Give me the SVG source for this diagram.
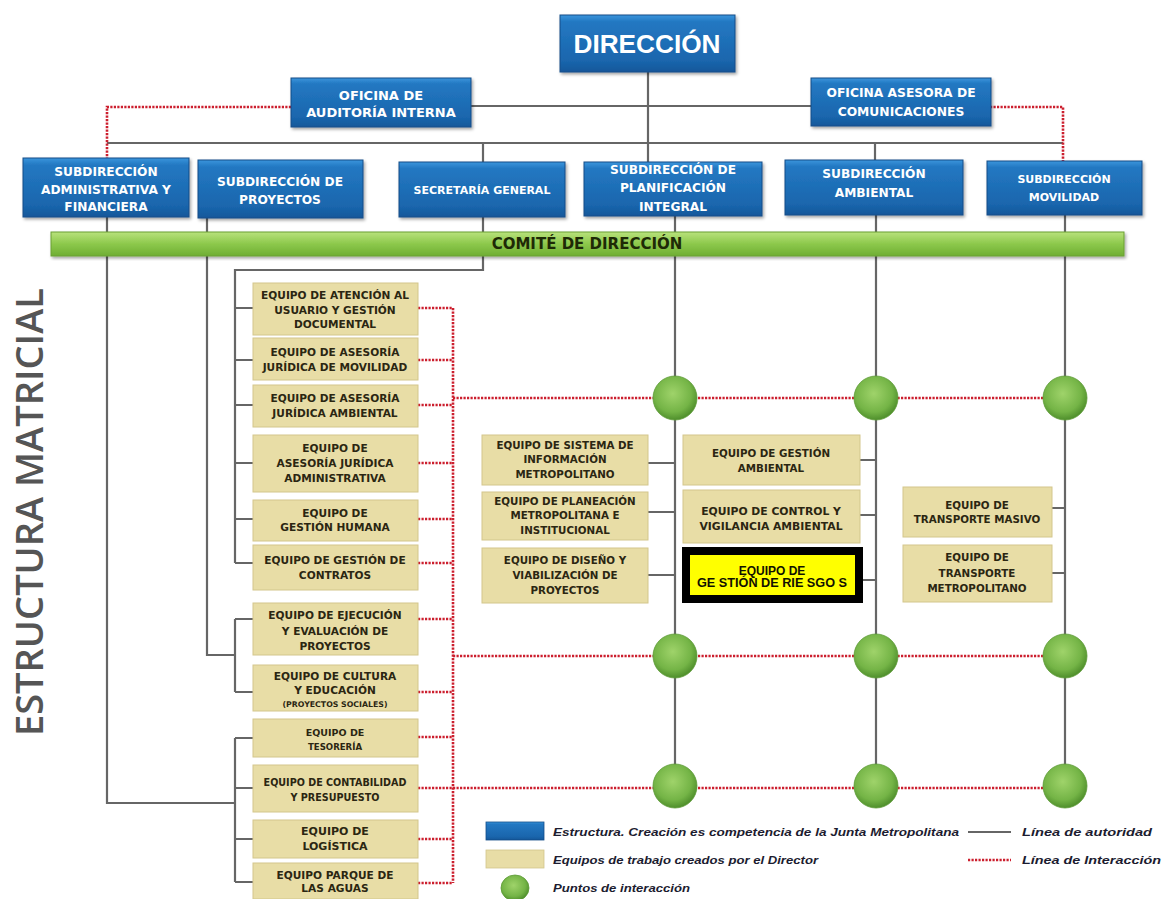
<svg xmlns="http://www.w3.org/2000/svg" width="1174" height="899" viewBox="0 0 1174 899">
<defs>
<linearGradient id="gBlue" x1="0" y1="0" x2="0" y2="1">
<stop offset="0" stop-color="#3a95dc"/>
<stop offset="0.12" stop-color="#2378c2"/>
<stop offset="0.8" stop-color="#1a66ad"/>
<stop offset="1" stop-color="#14579a"/>
</linearGradient>
<linearGradient id="gGreen" x1="0" y1="0" x2="0" y2="1">
<stop offset="0" stop-color="#b9e27c"/>
<stop offset="0.5" stop-color="#8cc84b"/>
<stop offset="1" stop-color="#6fae33"/>
</linearGradient>
<radialGradient id="gDot" cx="0.45" cy="0.4" r="0.6">
<stop offset="0" stop-color="#9fd36a"/>
<stop offset="0.7" stop-color="#74b446"/>
<stop offset="1" stop-color="#4f8f2c"/>
</radialGradient>
<filter id="sh" x="-10%" y="-10%" width="125%" height="130%">
<feDropShadow dx="1.5" dy="2" stdDeviation="1.5" flood-color="#000" flood-opacity="0.35"/>
</filter>
</defs>
<style>
.blue{fill:url(#gBlue);stroke:#124d88;stroke-width:1;filter:url(#sh)}
.tan{fill:#e8dda6;stroke:#d3c68c;stroke-width:1}
.bt{font-family:"DejaVu Sans","Liberation Sans",sans-serif;font-weight:bold;fill:#ffffff;text-anchor:middle;dominant-baseline:central;font-size:12.2px}
.tt{font-family:"DejaVu Sans","Liberation Sans",sans-serif;font-weight:bold;fill:#2b2612;text-anchor:middle;dominant-baseline:central;font-size:10.6px}
.mt{font-size:10.3px}
.auth{fill:none;stroke:#666666;stroke-width:2.2}
.inter{fill:none;stroke:#cc1f2e;stroke-width:2.6;stroke-dasharray:2.2 1.3}
.dot{fill:url(#gDot);stroke:#5d9a36;stroke-width:0.8}
.lg{font-family:"Liberation Sans",Arial,sans-serif;font-weight:bold;font-style:italic;fill:#1c1c30;font-size:10.5px;dominant-baseline:central}
</style>
<rect width="1174" height="899" fill="#ffffff"/>

<g id="connectors">
<path class="auth" d="M648 72 V162"/>
<path class="auth" d="M471 106 H811"/>
<path class="auth" d="M107 143 H1063"/>
<path class="auth" d="M483 143 V162"/>
<path class="auth" d="M875 143 V160"/>
<path class="inter" d="M291 107 H107 V158"/>
<path class="inter" d="M990 107 H1063 V161"/>
<path class="auth" d="M107 217 V803 H235"/>
<path class="auth" d="M235 738 V882"/>
<path class="auth" d="M235 738 H253 M235 788 H253 M235 839 H253 M235 882 H253"/>
<path class="auth" d="M207 218 V655 H235"/>
<path class="auth" d="M235 619 V692"/>
<path class="auth" d="M235 619 H253 M235 692 H253"/>
<path class="auth" d="M483 217 V270 H235 V563"/>
<path class="auth" d="M235 308 H253 M235 360 H253 M235 405 H253 M235 463 H253 M235 519 H253 M235 563 H253"/>
<path class="auth" d="M675 216 V786"/>
<path class="auth" d="M876 215 V786"/>
<path class="auth" d="M1065 215 V786"/>
<path class="auth" d="M648 463 H675 M648 512 H675 M648 575 H675"/>
<path class="auth" d="M860 460 H876 M860 515 H876 M863 580 H876"/>
<path class="auth" d="M1052 508 H1065 M1052 573 H1065"/>
<path class="inter" d="M453 308 V883"/>
<path class="inter" d="M418 308 H453 M418 360 H453 M418 405 H453 M418 463 H453 M418 519 H453 M418 563 H453 M418 619 H453 M418 692 H453 M418 737 H453 M418 788 H453 M418 839 H453 M418 883 H453"/>
<path class="inter" d="M453 398 H1065"/>
<path class="inter" d="M453 656 H1065"/>
<path class="inter" d="M453 788 H1065"/>
</g>

<g id="direccion">
<rect class="blue" x="560" y="15" width="175" height="57"/>
<text x="647" y="44" font-family="'Liberation Sans',Arial,sans-serif" font-weight="bold" fill="#ffffff" text-anchor="middle" dominant-baseline="central" font-size="25" textLength="147" lengthAdjust="spacingAndGlyphs">DIRECCIÓN</text>
</g>
<g id="auditoria">
<rect class="blue" x="291" y="78" width="180" height="49"/>
<text class="bt" x="381" y="95" style="font-size:13px">OFICINA DE</text>
<text class="bt" x="381" y="112" style="font-size:13px">AUDITORÍA INTERNA</text>
</g>
<g id="comunicaciones">
<rect class="blue" x="811" y="78" width="180" height="48"/>
<text class="bt" x="901" y="93" style="font-size:12.3px">OFICINA  ASESORA DE</text>
<text class="bt" x="901" y="112" style="font-size:12.3px">COMUNICACIONES</text>
</g>

<g id="sub-admin">
<rect class="blue" x="23" y="158" width="166" height="59"/>
<text class="bt" x="106" y="172">SUBDIRECCIÓN</text>
<text class="bt" x="106" y="190">ADMINISTRATIVA Y</text>
<text class="bt" x="106" y="207">FINANCIERA</text>
</g>
<g id="sub-proyectos">
<rect class="blue" x="198" y="160" width="165" height="58"/>
<text class="bt" x="280" y="182">SUBDIRECCIÓN DE</text>
<text class="bt" x="280" y="200">PROYECTOS</text>
</g>
<g id="secretaria">
<rect class="blue" x="399" y="162" width="166" height="55"/>
<text class="bt" x="482" y="190" style="font-size:11px">SECRETARÍA GENERAL</text>
</g>
<g id="sub-planificacion">
<rect class="blue" x="584" y="162" width="178" height="54"/>
<text class="bt" x="673" y="170">SUBDIRECCIÓN DE</text>
<text class="bt" x="673" y="188">PLANIFICACIÓN</text>
<text class="bt" x="673" y="207">INTEGRAL</text>
</g>
<g id="sub-ambiental">
<rect class="blue" x="785" y="160" width="178" height="55"/>
<text class="bt" x="874" y="174">SUBDIRECCIÓN</text>
<text class="bt" x="874" y="193">AMBIENTAL</text>
</g>
<g id="sub-movilidad">
<rect class="blue" x="987" y="161" width="155" height="54"/>
<text class="bt" x="1064" y="179" style="font-size:11px">SUBDIRECCIÓN</text>
<text class="bt" x="1064" y="197" style="font-size:11px">MOVILIDAD</text>
</g>

<g id="comite">
<rect x="51" y="232" width="1073" height="24" fill="url(#gGreen)" stroke="#6a9f35" stroke-width="1" filter="url(#sh)"/>
<text x="587" y="244" font-family="'DejaVu Sans','Liberation Sans',sans-serif" font-weight="bold" font-size="15" fill="#1e2a06" text-anchor="middle" dominant-baseline="central">COMITÉ DE DIRECCIÓN</text>
</g>

<g id="eq-atencion">
<rect class="tan" x="253" y="283" width="165" height="52"/>
<text class="tt" x="335" y="295">EQUIPO DE ATENCIÓN AL</text>
<text class="tt" x="335" y="310">USUARIO Y GESTIÓN</text>
<text class="tt" x="335" y="324">DOCUMENTAL</text>
</g>
<g id="eq-jur-movilidad">
<rect class="tan" x="253" y="338" width="165" height="42"/>
<text class="tt" x="335" y="352">EQUIPO DE ASESORÍA</text>
<text class="tt" x="335" y="367">JURÍDICA DE MOVILIDAD</text>
</g>
<g id="eq-jur-ambiental">
<rect class="tan" x="253" y="385" width="165" height="42"/>
<text class="tt" x="335" y="398">EQUIPO DE ASESORÍA</text>
<text class="tt" x="335" y="413">JURÍDICA AMBIENTAL</text>
</g>
<g id="eq-jur-admin">
<rect class="tan" x="253" y="435" width="165" height="57"/>
<text class="tt" x="335" y="448">EQUIPO DE</text>
<text class="tt" x="335" y="463">ASESORÍA JURÍDICA</text>
<text class="tt" x="335" y="478">ADMINISTRATIVA</text>
</g>
<g id="eq-humana">
<rect class="tan" x="253" y="500" width="165" height="41"/>
<text class="tt" x="335" y="513">EQUIPO DE</text>
<text class="tt" x="335" y="527">GESTIÓN HUMANA</text>
</g>
<g id="eq-contratos">
<rect class="tan" x="253" y="545" width="165" height="45"/>
<text class="tt" x="335" y="560">EQUIPO DE GESTIÓN DE</text>
<text class="tt" x="335" y="575">CONTRATOS</text>
</g>
<g id="eq-ejecucion">
<rect class="tan" x="253" y="603" width="165" height="52"/>
<text class="tt" x="335" y="615">EQUIPO DE  EJECUCIÓN</text>
<text class="tt" x="335" y="631">Y EVALUACIÓN DE</text>
<text class="tt" x="335" y="646">PROYECTOS</text>
</g>
<g id="eq-cultura">
<rect class="tan" x="253" y="665" width="165" height="46"/>
<text class="tt" x="335" y="676">EQUIPO DE  CULTURA</text>
<text class="tt" x="335" y="690">Y EDUCACIÓN</text>
<text class="tt" x="335" y="704" style="font-size:7.8px">(PROYECTOS SOCIALES)</text>
</g>
<g id="eq-tesoreria">
<rect class="tan" x="253" y="719" width="165" height="38"/>
<text class="tt" x="335" y="732" style="font-size:9.5px">EQUIPO DE</text>
<text class="tt" x="335" y="747" style="font-size:8.6px">TESORERÍA</text>
</g>
<g id="eq-contabilidad">
<rect class="tan" x="253" y="765" width="165" height="47"/>
<text class="tt" x="335" y="782" style="font-size:9.6px">EQUIPO DE CONTABILIDAD</text>
<text class="tt" x="335" y="797" style="font-size:9.6px">Y PRESUPUESTO</text>
</g>
<g id="eq-logistica">
<rect class="tan" x="253" y="820" width="165" height="38"/>
<text class="tt" x="335" y="831" style="font-size:11px">EQUIPO  DE</text>
<text class="tt" x="335" y="846" style="font-size:11px">LOGÍSTICA</text>
</g>
<g id="eq-parque">
<rect class="tan" x="253" y="863" width="165" height="36"/>
<text class="tt" x="335" y="875" style="font-size:10.6px">EQUIPO PARQUE DE</text>
<text class="tt" x="335" y="888" style="font-size:10.6px">LAS AGUAS</text>
</g>

<g id="eq-sistema">
<rect class="tan" x="482" y="435" width="166" height="50"/>
<text class="tt mt" x="565" y="445">EQUIPO DE SISTEMA DE</text>
<text class="tt mt" x="565" y="459">INFORMACIÓN</text>
<text class="tt mt" x="565" y="474">METROPOLITANO</text>
</g>
<g id="eq-planeacion">
<rect class="tan" x="482" y="492" width="166" height="48"/>
<text class="tt mt" x="565" y="501">EQUIPO DE PLANEACIÓN</text>
<text class="tt mt" x="565" y="515">METROPOLITANA E</text>
<text class="tt mt" x="565" y="530">INSTITUCIONAL</text>
</g>
<g id="eq-diseno">
<rect class="tan" x="482" y="548" width="166" height="55"/>
<text class="tt mt" x="565" y="560">EQUIPO DE DISEÑO Y</text>
<text class="tt mt" x="565" y="575">VIABILIZACIÓN DE</text>
<text class="tt mt" x="565" y="590">PROYECTOS</text>
</g>
<g id="eq-gestion-ambiental">
<rect class="tan" x="683" y="435" width="177" height="50"/>
<text class="tt mt" x="771" y="453">EQUIPO DE GESTIÓN</text>
<text class="tt mt" x="771" y="468">AMBIENTAL</text>
</g>
<g id="eq-control">
<rect class="tan" x="683" y="490" width="177" height="53"/>
<text class="tt" x="771" y="511" style="font-size:10.8px">EQUIPO DE CONTROL Y</text>
<text class="tt" x="771" y="526" style="font-size:10.8px">VIGILANCIA AMBIENTAL</text>
</g>
<g id="eq-riesgos">
<rect x="686" y="551" width="173" height="48" fill="#ffff00" stroke="#000000" stroke-width="8"/>
<text x="772" y="571" font-family="'Liberation Sans',Arial,sans-serif" font-weight="bold" font-size="12" fill="#111100" text-anchor="middle" dominant-baseline="central">EQUIPO DE</text>
<text x="772" y="583" font-family="'Liberation Sans',Arial,sans-serif" font-weight="bold" font-size="12" fill="#111100" text-anchor="middle" dominant-baseline="central" textLength="150" lengthAdjust="spacingAndGlyphs">GE STIÓN DE RIE SGO S</text>
</g>
<g id="eq-transporte-masivo">
<rect class="tan" x="903" y="487" width="149" height="50"/>
<text class="tt mt" x="977" y="505">EQUIPO DE</text>
<text class="tt mt" x="977" y="519">TRANSPORTE MASIVO</text>
</g>
<g id="eq-transporte-metro">
<rect class="tan" x="903" y="545" width="149" height="57"/>
<text class="tt mt" x="977" y="557">EQUIPO DE</text>
<text class="tt mt" x="977" y="573">TRANSPORTE</text>
<text class="tt mt" x="977" y="588">METROPOLITANO</text>
</g>

<g id="puntos">
<circle class="dot" cx="675" cy="398" r="22"/>
<circle class="dot" cx="876" cy="398" r="22"/>
<circle class="dot" cx="1065" cy="398" r="22"/>
<circle class="dot" cx="675" cy="656" r="22"/>
<circle class="dot" cx="876" cy="656" r="22"/>
<circle class="dot" cx="1065" cy="656" r="22"/>
<circle class="dot" cx="675" cy="786" r="22"/>
<circle class="dot" cx="876" cy="786" r="22"/>
<circle class="dot" cx="1065" cy="786" r="22"/>
</g>

<g id="titulo">
<text transform="translate(43,736) rotate(-90)" font-family="'Open Sans','Liberation Sans',sans-serif" font-weight="600" font-size="38" fill="#555555" textLength="448" lengthAdjust="spacingAndGlyphs">ESTRUCTURA MATRICIAL</text>
</g>

<g id="leyenda">
<rect x="486" y="822" width="58" height="18" fill="url(#gBlue)" stroke="#124d88" stroke-width="0.8"/>
<rect x="486" y="850" width="58" height="18" fill="#e8dda6" stroke="#d3c68c" stroke-width="0.8"/>
<ellipse cx="515" cy="888" rx="14" ry="13" class="dot"/>
<text class="lg" x="553" y="832" textLength="406" lengthAdjust="spacingAndGlyphs">Estructura. Creación  es competencia de la Junta Metropolitana</text>
<text class="lg" x="553" y="860" textLength="265" lengthAdjust="spacingAndGlyphs">Equipos de trabajo creados por el Director</text>
<text class="lg" x="553" y="888" textLength="137" lengthAdjust="spacingAndGlyphs">Puntos de interacción</text>
<path class="auth" d="M968 832 H1011"/>
<path class="inter" d="M968 860 H1011"/>
<text class="lg" x="1022" y="832" textLength="130" lengthAdjust="spacingAndGlyphs">Línea de autoridad</text>
<text class="lg" x="1022" y="860" textLength="139" lengthAdjust="spacingAndGlyphs">Línea de Interacción</text>
</g>
</svg>
